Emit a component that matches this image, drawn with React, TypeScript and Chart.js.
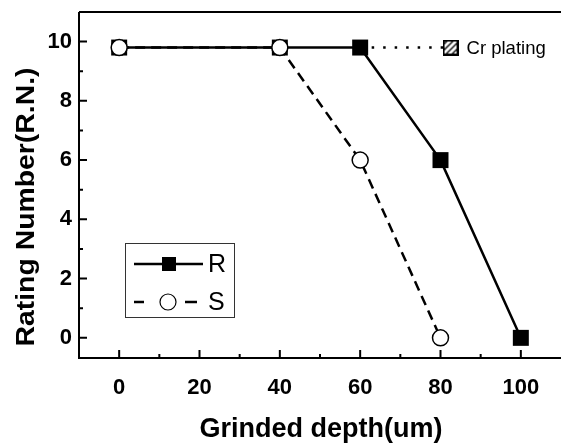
import React, { useEffect, useRef } from "react";
import { Chart, registerables } from "chart.js";

Chart.register(...registerables);

const depthR = [0, 40, 60, 80, 100];
const ratingR = [9.8, 9.8, 9.8, 6, 0];
const depthS = [0, 40, 60, 80];
const ratingS = [9.8, 9.8, 6, 0];
const crDepth = [60, 82.5];
const crRating = [9.8, 9.8];
const xTicks = [0, 20, 40, 60, 80, 100];
const yTicks = [0, 2, 4, 6, 8, 10];
const xMinor = [10, 30, 50, 70, 90];
const yMinor = [1, 3, 5, 7, 9];
const xTitle = "Grinded depth(um)";
const yTitle = "Rating Number(R.N.)";
const crLabel = "Cr plating";
const legendLabels = ["R", "S"];

const FONT = "'Liberation Sans', Arial, sans-serif";

function makeHatch(): HTMLCanvasElement {
  const c = document.createElement("canvas");
  c.width = 16;
  c.height = 16;
  const g = c.getContext("2d")!;
  g.fillStyle = "#fff";
  g.fillRect(1, 1, 14, 14);
  g.strokeStyle = "#000";
  g.lineWidth = 2;
  g.strokeRect(1, 1, 14, 14);
  g.lineWidth = 1.4;
  g.save();
  g.beginPath();
  g.rect(2, 2, 12, 12);
  g.clip();
  g.beginPath();
  for (let k = -16; k <= 16; k += 6) {
    g.moveTo(k, 16);
    g.lineTo(k + 16, 0);
  }
  g.stroke();
  g.restore();
  return c;
}

const zeroPad = (s: any) => {
  s.paddingTop = 0;
  s.paddingBottom = 0;
  s.paddingLeft = 0;
  s.paddingRight = 0;
};

const framePlugin = {
  id: "frame",
  afterDatasetsDraw(chart: any) {
    const { ctx, chartArea } = chart;
    const xs = chart.scales.x;
    const ys = chart.scales.y;
    const { left, right, top, bottom } = chartArea;
    ctx.save();
    ctx.strokeStyle = "#000";
    ctx.lineWidth = 2;
    ctx.beginPath();
    ctx.moveTo(left, top);
    ctx.lineTo(right + 2, top);
    ctx.moveTo(left, top);
    ctx.lineTo(left, bottom);
    ctx.lineTo(right + 2, bottom);
    ctx.stroke();
    ctx.lineWidth = 2;
    ctx.beginPath();
    xTicks.forEach((v) => {
      const p = xs.getPixelForValue(v);
      ctx.moveTo(p, bottom);
      ctx.lineTo(p, bottom - 8);
    });
    xMinor.forEach((v) => {
      const p = xs.getPixelForValue(v);
      ctx.moveTo(p, bottom);
      ctx.lineTo(p, bottom - 4);
    });
    yTicks.forEach((v) => {
      const p = ys.getPixelForValue(v);
      ctx.moveTo(left, p);
      ctx.lineTo(left + 8, p);
    });
    yMinor.forEach((v) => {
      const p = ys.getPixelForValue(v);
      ctx.moveTo(left, p);
      ctx.lineTo(left + 4, p);
    });
    ctx.stroke();

    // Cr plating label
    const crMeta = chart.getDatasetMeta(0);
    const last = crMeta.data[crMeta.data.length - 1];
    ctx.fillStyle = "#000";
    ctx.font = `18.5px ${FONT}`;
    ctx.textBaseline = "middle";
    ctx.textAlign = "left";
    ctx.fillText(crLabel, last.x + 16, last.y + 1);

    // legend box
    const bx = left + 46;
    const by = top + 231;
    const bw = 109;
    const bh = 74;
    ctx.fillStyle = "#fff";
    ctx.fillRect(bx, by, bw, bh);
    ctx.strokeStyle = "#333";
    ctx.lineWidth = 1;
    ctx.strokeRect(bx + 0.5, by + 0.5, bw, bh);
    // R row
    const r1 = by + 21;
    ctx.strokeStyle = "#000";
    ctx.lineWidth = 2.5;
    ctx.beginPath();
    ctx.moveTo(bx + 9, r1);
    ctx.lineTo(bx + 78, r1);
    ctx.stroke();
    ctx.fillStyle = "#000";
    ctx.fillRect(bx + 37, r1 - 7, 14, 14);
    // S row
    const r2 = by + 59;
    ctx.beginPath();
    ctx.moveTo(bx + 9, r2);
    ctx.lineTo(bx + 19, r2);
    ctx.moveTo(bx + 60, r2);
    ctx.lineTo(bx + 72, r2);
    ctx.stroke();
    ctx.lineWidth = 1.2;
    ctx.beginPath();
    ctx.arc(bx + 43, r2, 8, 0, Math.PI * 2);
    ctx.fillStyle = "#fff";
    ctx.fill();
    ctx.stroke();
    ctx.fillStyle = "#000";
    ctx.font = `25px ${FONT}`;
    ctx.textBaseline = "middle";
    ctx.fillText(legendLabels[0], bx + 83, r1 + 1);
    ctx.fillText(legendLabels[1], bx + 83, r2 + 1);

    // axis titles
    ctx.font = `bold 27px ${FONT}`;
    ctx.textAlign = "center";
    ctx.textBaseline = "alphabetic";
    ctx.fillText(xTitle, (left + right) / 2 + 1, 437);

    ctx.save();
    ctx.translate(34, (top + bottom) / 2 + 22);
    ctx.rotate(-Math.PI / 2);
    ctx.font = `bold 25px ${FONT}`;
    const w = ctx.measureText(yTitle).width;
    ctx.scale(279 / w, 1);
    ctx.fillText(yTitle, 0, 0);
    ctx.restore();

    ctx.restore();
  },
};

export default function App() {
  const ref = useRef<HTMLCanvasElement>(null);
  useEffect(() => {
    const hatch = makeHatch();
    const chart = new Chart(ref.current!, {
      type: "line",
      data: {
        datasets: [
          {
            label: "Cr plating",
            data: crDepth.map((x, i) => ({ x, y: crRating[i] })),
            borderColor: "#000",
            borderWidth: 2.5,
            borderDash: [2.5, 9],
            pointStyle: [false as any, hatch as any],
            pointRadius: [0, 8],
            order: 3,
          },
          {
            label: "R",
            data: depthR.map((x, i) => ({ x, y: ratingR[i] })),
            borderColor: "#000",
            borderWidth: 2.5,
            pointStyle: "rect",
            pointRadius: 11.3,
            pointBackgroundColor: "#000",
            pointBorderColor: "#000",
            pointBorderWidth: 0,
            order: 2,
          },
          {
            label: "S",
            data: depthS.map((x, i) => ({ x, y: ratingS[i] })),
            borderColor: "#000",
            borderWidth: 2.5,
            borderDash: [10, 6],
            pointStyle: "circle",
            pointRadius: 8,
            pointBackgroundColor: "#fff",
            pointBorderColor: "#000",
            pointBorderWidth: 1.5,
            order: 1,
          },
        ],
      },
      options: {
        animation: false,
        responsive: false,
        maintainAspectRatio: false,
        layout: { autoPadding: false, padding: { top: 12, right: 0, left: 0, bottom: 0 } },
        plugins: { legend: { display: false }, tooltip: { enabled: false } },
        scales: {
          x: {
            type: "linear",
            min: -10,
            max: 110,
            afterFit: (s: any) => {
              s.height = 86;
              zeroPad(s);
            },
            afterBuildTicks: (s: any) => {
              s.ticks = xTicks.map((v) => ({ value: v }));
            },
            grid: { display: false, drawTicks: false },
            border: { display: false },
            ticks: {
              padding: 17,
              color: "#000",
              font: { family: FONT, size: 22, weight: "bold" },
            },
          },
          y: {
            type: "linear",
            min: -0.68,
            max: 11,
            afterFit: (s: any) => {
              s.width = 79;
              zeroPad(s);
            },
            afterBuildTicks: (s: any) => {
              s.ticks = yTicks.map((v) => ({ value: v }));
            },
            grid: { display: false, drawTicks: false },
            border: { display: false },
            ticks: {
              padding: 7,
              color: "#000",
              font: { family: FONT, size: 22, weight: "bold" },
            },
          },
        },
      },
      plugins: [framePlugin],
    } as any);
    return () => chart.destroy();
  }, []);
  return (
    <div style={{ position: "fixed", left: 0, top: 0, width: 561, height: 444, background: "#fff" }}>
      <canvas ref={ref} width={561} height={444} style={{ width: 561, height: 444 }} />
    </div>
  );
}
